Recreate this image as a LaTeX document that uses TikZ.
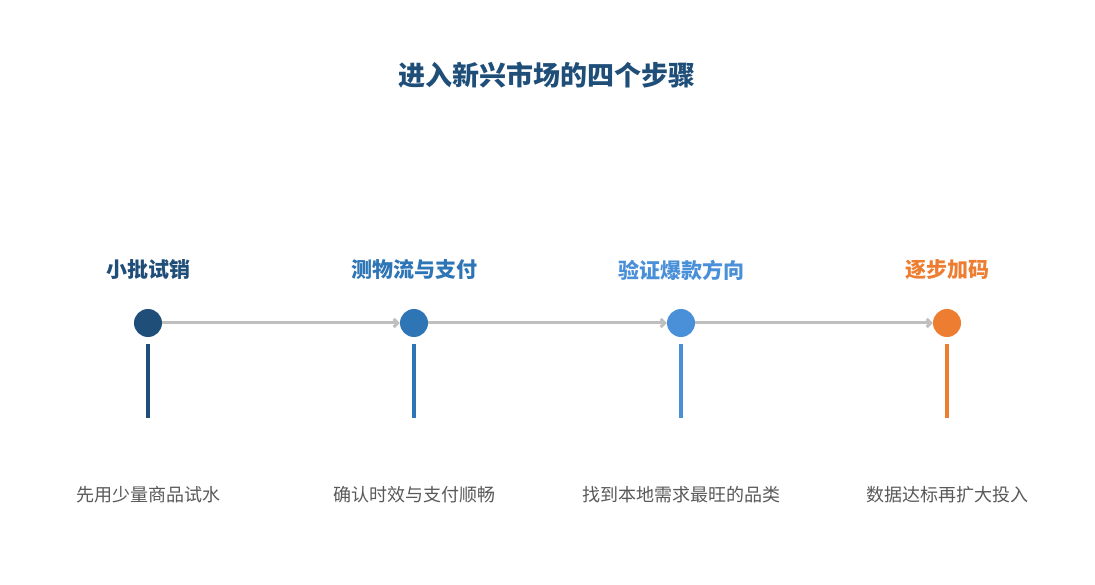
\documentclass[tikz,border=0pt]{standalone}
\usepackage{fontspec}
\setmainfont{Noto Sans CJK SC}
\usetikzlibrary{arrows.meta}
\definecolor{c1}{HTML}{1F4E79}
\definecolor{c2}{HTML}{2E75B6}
\definecolor{c3}{HTML}{4A90D9}
\definecolor{c4}{HTML}{ED7D31}
\definecolor{gl}{HTML}{BFBFBF}
\definecolor{tx}{HTML}{595959}
\begin{document}
\begin{tikzpicture}[x=1pt,y=-1pt,
  dot/.style={circle,fill=#1,minimum size=28pt,inner sep=0pt},
  head/.style={text=#1,font=\fontsize{21}{24}\selectfont\bfseries},
  desc/.style={text=tx,font=\fontsize{18}{21}\selectfont},
  conn/.style={draw=gl,line width=3pt,-{Straight Barb[length=4pt,width=8pt]}},
  stem/.style={draw=#1,line width=3.5pt}]
\useasboundingbox (0,0) rectangle (1095,585);
\node[text=c1,font=\fontsize{27}{30}\selectfont\bfseries] (title) at (547,75) {进入新兴市场的四个步骤};
\foreach \i/\x/\c/\h/\d in {1/148/c1/小批试销/先用少量商品试水,2/414/c2/测物流与支付/确认时效与支付顺畅,3/681/c3/验证爆款方向/找到本地需求最旺的品类,4/947/c4/逐步加码/数据达标再扩大投入}{
  \node[dot=\c] (d\i) at (\x,323) {};
  \node[head=\c] (h\i) at (\x,270) {\h};
  \node[desc] (t\i) at (\x,495) {\d};
  \coordinate (s\i) at (\x,344);
  \coordinate (e\i) at (\x,418);
  \draw[stem=\c] (s\i) -- (e\i);
}
\draw[conn] (d1) -- (d2);
\draw[conn] (d2) -- (d3);
\draw[conn] (d3) -- (d4);
\end{tikzpicture}
\end{document}
